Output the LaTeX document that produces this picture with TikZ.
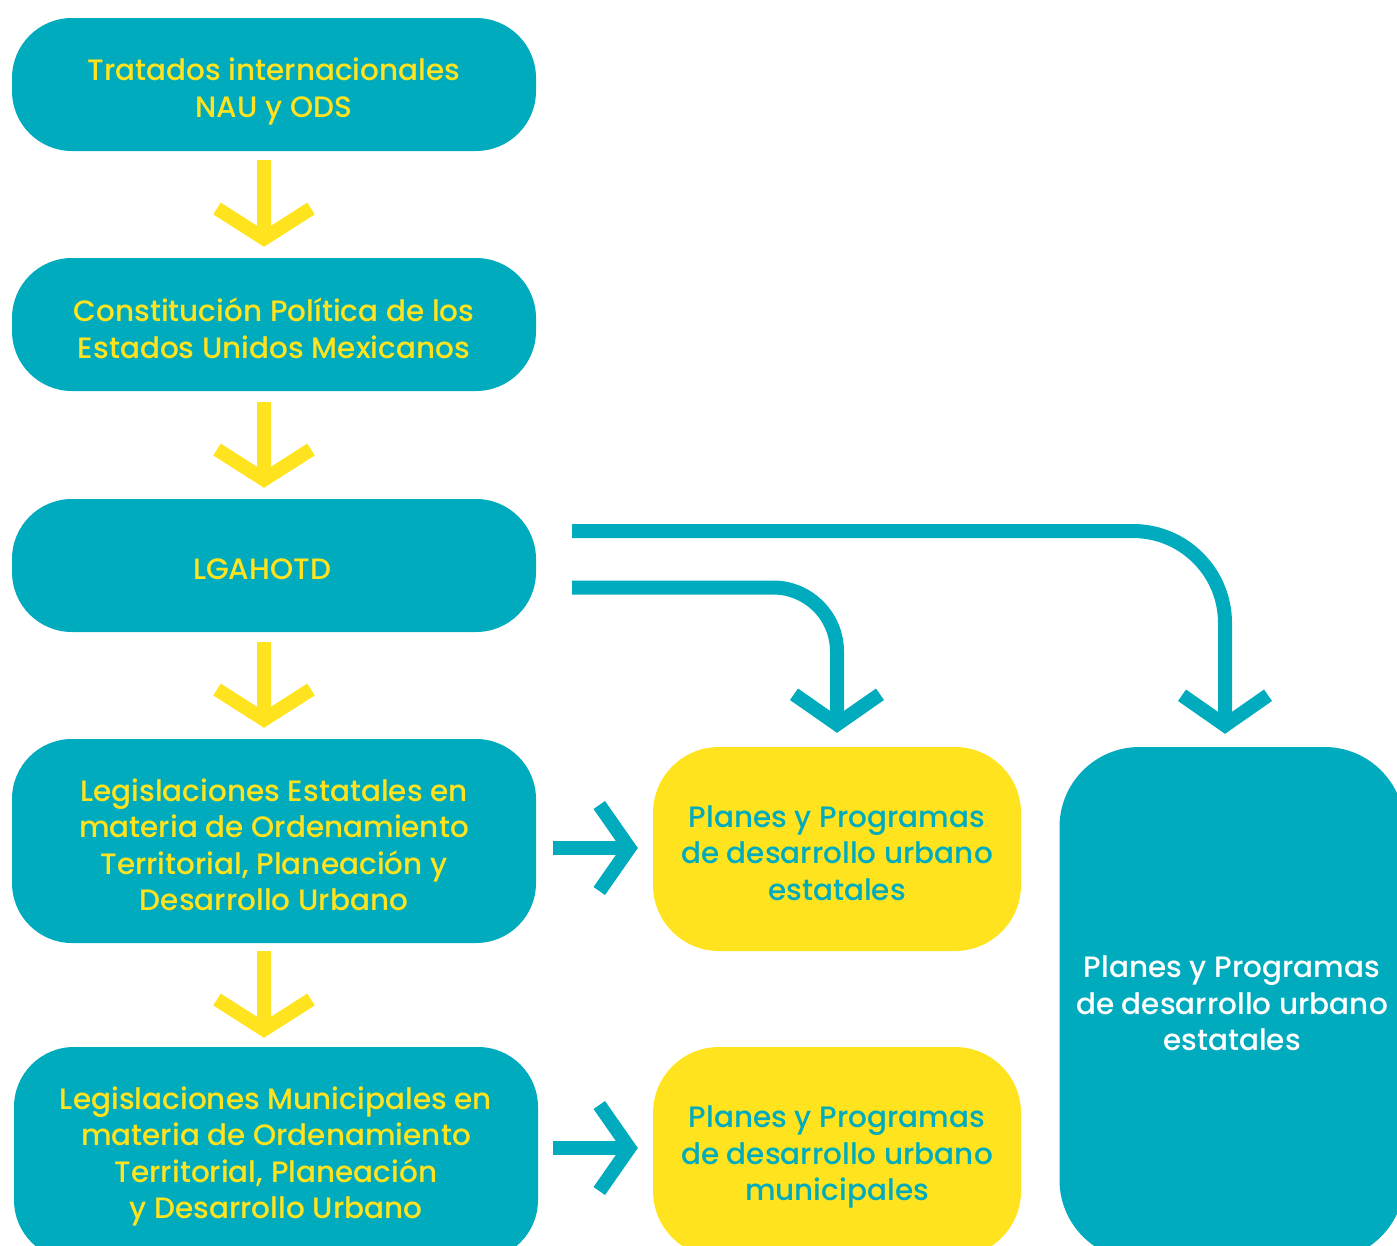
\documentclass[tikz,border=0pt]{standalone}
\usepackage{fontspec}
\setmainfont{Poppins}[UprightFont={* Medium}]
\usetikzlibrary{arrows.meta,calc}
\definecolor{tealc}{RGB}{0,171,189}
\definecolor{yelc}{RGB}{255,227,30}
\tikzset{
  txt/.style={align=center, font=\fontsize{29.5}{36.5}\selectfont, inner sep=0pt, yshift=-4pt},
  tbox/.style={rounded corners=60pt, fill=tealc, inner sep=0pt, minimum width=524pt},
  tlab/.style={txt, text=yelc},
  ybox/.style={rounded corners=66pt, fill=yelc, inner sep=0pt, minimum width=368pt},
  ylab/.style={txt, text=tealc},
  rbox/.style={rounded corners=80pt, fill=tealc, inner sep=0pt},
  rlab/.style={txt, text=white, yshift=4pt},
  yarr/.style={draw=yelc, line width=14pt,
    -{Straight Barb[length=30pt,width=94pt,line width=14pt]}},
  tarr/.style={draw=tealc, line width=14pt,
    -{Straight Barb[length=30pt,width=86pt,line width=14pt]}},
}
\begin{document}
\begin{tikzpicture}[x=1pt,y=-1pt]
\useasboundingbox (0,0) rectangle (1397,1245);
\clip (0,0) rectangle (1397,1245);
\node[tbox, minimum height=133pt, label={[tlab, yshift=-3pt]center:{Tratados internacionales\\NAU y ODS}}] (b1) at (274,84.5) {};
\node[tbox, minimum height=133pt, label={[tlab]center:{Constitución Política de los\\Estados Unidos Mexicanos}}] (b2) at (274,324.5) {};
\node[tbox, minimum height=133pt, label={[tlab, xshift=-12pt]center:{LGAHOTD}}] (b3) at (274,565.5) {};
\node[tbox, minimum height=204pt, label={[tlab]center:{Legislaciones Estatales en\\materia de Ordenamiento\\Territorial, Planeación y\\Desarrollo Urbano}}] (b4) at (274,841) {};
\node[tbox, minimum height=213pt, label={[tlab, yshift=1pt]center:{Legislaciones Municipales en\\materia de Ordenamiento\\Territorial, Planeación\\y Desarrollo Urbano}}] (b5) at (276,1153.5) {};
\node[ybox, minimum height=204pt, label={[ylab]center:{Planes y Programas\\de desarrollo urbano\\estatales}}] (y1) at (837,849) {};
\node[ybox, minimum height=210pt, label={[ylab, yshift=-1pt]center:{Planes y Programas\\de desarrollo urbano\\municipales}}] (y2) at (837,1152) {};
\node[rbox, minimum width=345pt, minimum height=513pt, label={[rlab]center:{Planes y Programas\\de desarrollo urbano\\estatales}}] (rb) at (1232,1003.5) {};
% yellow down arrows
\draw[yarr] ($(b1.south)+(-10,9)$) -- ($(b2.north)+(-10,-11)$);
\draw[yarr] ($(b2.south)+(-10,11)$) -- ($(b3.north)+(-10,-11)$);
\draw[yarr] ($(b3.south)+(-10,10)$) -- ($(b4.north)+(-10,-11)$);
\draw[yarr] ($(b4.south)+(-10,8)$) -- ($(b5.north)+(-12,-9)$);
% teal side arrows
\draw[tarr] ($(b4.east)+(17,7)$) -- ($(y1.west)+(-15,-1)$);
\draw[tarr] ($(b5.east)+(15,-5.5)$) -- ($(y2.west)+(-15,-4)$);
% teal bent connectors
\coordinate (s1) at ($(b3.east)+(36,-34.5)$);
\coordinate (s2) at ($(b3.east)+(36,22)$);
\draw[tarr, rounded corners=92pt] (s1) -- (s1 -| {$(rb.north)+(-7,0)$}) -- ($(rb.north)+(-7,-13)$);
\draw[tarr, rounded corners=64pt] (s2) -- (s2 -| y1.north) -- ($(y1.north)+(0,-14)$);
\end{tikzpicture}
\end{document}
